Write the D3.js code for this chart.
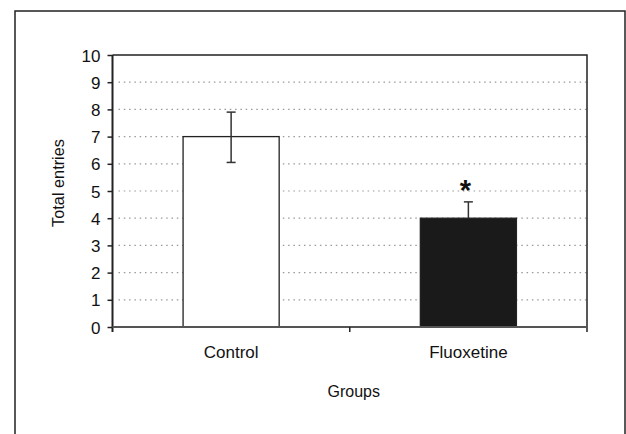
<!DOCTYPE html>
<html>
<head>
<meta charset="utf-8">
<script src="https://cdn.jsdelivr.net/npm/d3@7"></script>
<style>
  body { margin: 0; background: #fff; }
  text { font-family: "Liberation Sans", Arial, sans-serif; fill: #111; }
</style>
</head>
<body>
<div id="container"></div>
<script>
const groups = ["Control", "Fluoxetine"];
const means = [7.0, 4.0];
const errHigh = [7.9, 4.6];
const errLow = [6.05, null];
const marks = ["", "*"];
const yTicks = [0, 1, 2, 3, 4, 5, 6, 7, 8, 9, 10];

const width = 626;
const height = 434;
const plotLeft = 112.5, plotRight = 587, plotTop = 55, plotBottom = 327;

const svg = d3.select("#container")
  .append("svg")
    .attr("width", width)
    .attr("height", height);

// outer frame
svg.append("rect")
  .attr("x", 15).attr("y", 11)
  .attr("width", 610).attr("height", 440)
  .style("fill", "none")
  .style("stroke", "#222")
  .style("stroke-width", 1.5);

const x = d3.scaleBand()
  .domain(groups)
  .range([plotLeft, plotRight]);

const y = d3.scaleLinear()
  .domain([0, 10])
  .range([plotBottom, plotTop]);

const barW = x.bandwidth() * 0.405;

// grid lines
svg.selectAll(".grid")
  .data(yTicks.filter((d) => d > 0 && d < 10))
  .enter()
  .append("line")
    .attr("class", "grid")
    .attr("x1", plotLeft + 6)
    .attr("x2", plotRight)
    .attr("y1", (d) => y(d))
    .attr("y2", (d) => y(d))
    .style("stroke", "#999")
    .style("stroke-width", 1.2)
    .style("stroke-dasharray", "1.5,3.8");

// top and right frame of the plot
svg.append("path")
  .attr("d", `M${plotLeft},${y(10)}H${plotRight}V${plotBottom + 5}`)
  .style("fill", "none")
  .style("stroke", "#222")
  .style("stroke-width", 1.5);

// bars
svg.selectAll(".bar")
  .data(groups)
  .enter()
  .append("rect")
    .attr("class", "bar")
    .attr("x", (d) => x(d) + (x.bandwidth() - barW) / 2)
    .attr("y", (d, i) => y(means[i]))
    .attr("width", barW)
    .attr("height", (d, i) => y(0) - y(means[i]))
    .style("fill", (d, i) => i === 0 ? "#fff" : "#1a1a1a")
    .style("stroke", "#222")
    .style("stroke-width", 1.3);

// error bars
const cx = (d) => x(d) + x.bandwidth() / 2;
const err = svg.selectAll(".err")
  .data(groups)
  .enter()
  .append("g")
    .attr("class", "err")
    .style("stroke", "#333")
    .style("stroke-width", 1.5);

err.append("line")
  .attr("x1", cx).attr("x2", cx)
  .attr("y1", (d, i) => y(errLow[i] === null ? means[i] : errLow[i]))
  .attr("y2", (d, i) => y(errHigh[i]));

err.append("line")
  .attr("x1", (d) => cx(d) - 4.5).attr("x2", (d) => cx(d) + 4.5)
  .attr("y1", (d, i) => y(errHigh[i]))
  .attr("y2", (d, i) => y(errHigh[i]));

err.filter((d, i) => errLow[i] !== null)
  .append("line")
  .attr("x1", (d) => cx(d) - 4.5).attr("x2", (d) => cx(d) + 4.5)
  .attr("y1", (d) => y(errLow[groups.indexOf(d)]))
  .attr("y2", (d) => y(errLow[groups.indexOf(d)]));

// significance marks
svg.selectAll(".mark")
  .data(groups)
  .enter()
  .append("text")
    .attr("class", "mark")
    .attr("x", (d) => cx(d) - 3)
    .attr("y", (d, i) => y(errHigh[i]) - 2)
    .attr("text-anchor", "middle")
    .style("font-size", "29px")
    .style("font-weight", "bold")
    .text((d, i) => marks[i]);

// y axis
const yAxis = svg.append("g")
  .attr("transform", `translate(${plotLeft},0)`)
  .call(d3.axisLeft(y).tickValues(yTicks).tickSize(5).tickPadding(7));
yAxis.selectAll("text").style("font-size", "17px").attr("dy", "0.36em");
yAxis.select(".domain").style("stroke", "#222").style("stroke-width", 2).attr("d", `M0,${plotBottom + 5}V${plotTop}`);
yAxis.selectAll(".tick line").style("stroke", "#222").style("stroke-width", 1.5);

// x axis baseline with boundary ticks
svg.append("line")
  .attr("x1", plotLeft).attr("x2", plotRight)
  .attr("y1", y(0)).attr("y2", y(0))
  .style("stroke", "#555")
  .style("stroke-width", 2.2);

svg.selectAll(".xtick")
  .data(groups.slice(1))
  .enter()
  .append("line")
    .attr("class", "xtick")
    .attr("x1", (d) => x(d)).attr("x2", (d) => x(d))
    .attr("y1", y(0)).attr("y2", y(0) + 5)
    .style("stroke", "#222")
    .style("stroke-width", 1.5);

svg.selectAll(".xlabel")
  .data(groups)
  .enter()
  .append("text")
    .attr("class", "xlabel")
    .attr("x", cx)
    .attr("y", 358)
    .attr("text-anchor", "middle")
    .style("font-size", "17px")
    .text((d) => d);

// axis titles
svg.append("text")
  .attr("x", (plotLeft + plotRight) / 2 + 4)
  .attr("y", 397)
  .attr("text-anchor", "middle")
  .style("font-size", "16px")
  .text("Groups");

svg.append("text")
  .attr("transform", `translate(64,183) rotate(-90)`)
  .attr("text-anchor", "middle")
  .style("font-size", "16.3px")
  .text("Total entries");
</script>
</body>
</html>
